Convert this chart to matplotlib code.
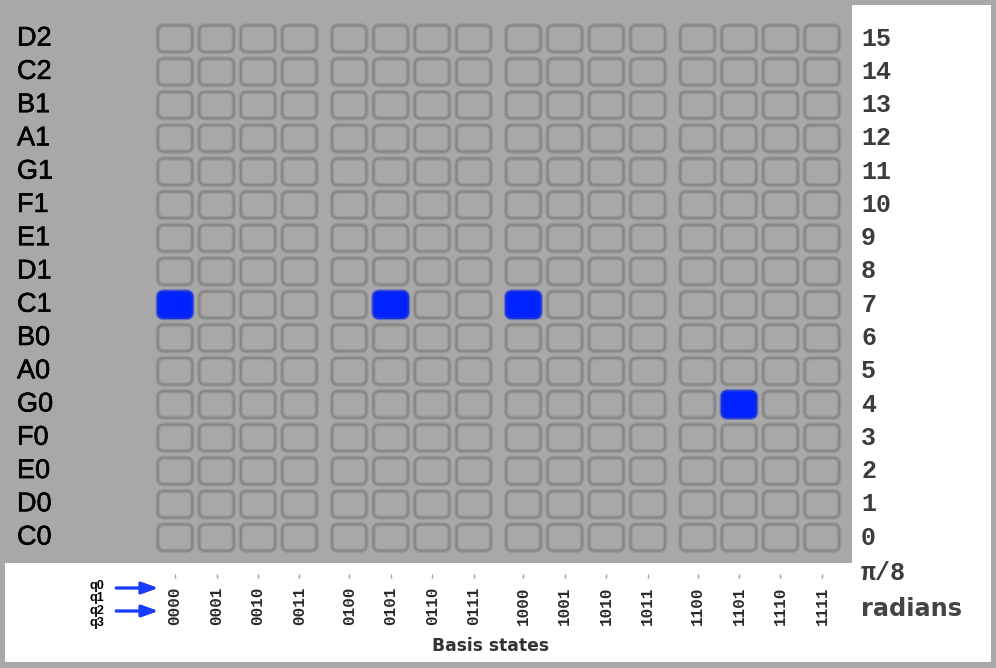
import matplotlib
matplotlib.use("Agg")
import matplotlib.pyplot as plt
import matplotlib.patheffects as pe
from matplotlib import transforms
from matplotlib.patches import FancyBboxPatch, Rectangle

# ── Data ───────────────────────────────────────────────────────
pitch_labels = ["C0", "D0", "E0", "F0", "G0", "A0", "B0", "C1",
                "D1", "E1", "F1", "G1", "A1", "B1", "C2", "D2"]
phase_labels = [str(i) for i in range(16)]
basis_states = ["0000", "0001", "0010", "0011", "0100", "0101", "0110", "0111",
                "1000", "1001", "1010", "1011", "1100", "1101", "1110", "1111"]
active_states = ["0000", "0101", "1000", "1101"]
active_phases = [7, 7, 7, 4]
qubit_labels = ["q0", "q1", "q2", "q3"]

# ── Style ──────────────────────────────────────────────────────
W, H = 996, 668
BG = "#a8a8a8"
CELL_EDGE = "#878787"
BLUE = "#0022ff"
TEXT_DARK = "#3c3c3c"


def fx(px):
    return px / W


def fy(py):
    return 1 - py / H


def col_x(i):
    # columns are grouped by four with a small gap between groups
    return i + 0.2 * (i // 4)


fig = plt.figure(figsize=(W / 100, H / 100), dpi=100, facecolor=BG)

# white panels (right legend column and bottom axis strip)
fig.add_artist(Rectangle((fx(852), fy(662)), fx(991 - 852), (662 - 4.5) / H,
                         transform=fig.transFigure, facecolor="white",
                         edgecolor="none", zorder=-1))
fig.add_artist(Rectangle((fx(5), fy(662)), fx(991 - 5), (662 - 563) / H,
                         transform=fig.transFigure, facecolor="white",
                         edgecolor="none", zorder=-1))

ax_l, ax_r, ax_t, ax_b = 154.3, 842.7, 22.0, 554.2
ax = fig.add_axes([fx(ax_l), fy(ax_b), fx(ax_r - ax_l), (ax_b - ax_t) / H])
ax.set_facecolor("none")
ax.set_xlim(-0.5, col_x(15) + 0.5)
ax.set_ylim(-0.5, 15.5)

px_x = (ax_r - ax_l) / (col_x(15) + 1.0)
px_y = (ax_b - ax_t) / 16.0
cw, ch = 34.5 / px_x, 26.5 / px_y
rad = 6.0 / px_x
aspect = px_x / px_y

active = set(zip(active_states, active_phases))
for i, state in enumerate(basis_states):
    for j in range(len(phase_labels)):
        on = (state, j) in active
        box = FancyBboxPatch(
            (col_x(i) - cw / 2, j - ch / 2), cw, ch,
            boxstyle=f"round,pad=0,rounding_size={rad}",
            mutation_aspect=aspect,
            facecolor=BLUE if on else "none",
            edgecolor="#1530e0" if on else CELL_EDGE,
            linewidth=1.4,
            path_effects=[pe.Stroke(linewidth=3.2,
                                    foreground="#1a35e8" if on else CELL_EDGE,
                                    alpha=0.45),
                          pe.Normal()],
        )
        ax.add_patch(box)

# x axis: basis states
for s in ["top", "left", "right"]:
    ax.spines[s].set_visible(False)
ax.spines["bottom"].set_position(("outward", 14.3))
ax.spines["bottom"].set_visible(False)
ax.set_xticks([col_x(i) for i in range(16)], basis_states, rotation=90,
              fontfamily="Liberation Mono", fontweight="bold", fontsize=11.5,
              color="#2a2a2a")
ax.tick_params(axis="x", length=2.6, width=1.0, color="#a0a0a0", pad=6.5)
ax.set_yticks([])

# row labels: pitches on the left, phase steps on the right
left_tr = transforms.blended_transform_factory(fig.transFigure, ax.transData)
for j, (p, ph) in enumerate(zip(pitch_labels, phase_labels)):
    ax.text(fx(17), j, p, transform=left_tr, ha="left", va="center",
            fontfamily="Liberation Sans", fontsize=19.5, color="black",
            path_effects=[pe.withStroke(linewidth=0.4, foreground="black")])
    ax.text(fx(861), j, ph, transform=left_tr, ha="left", va="center",
            fontfamily="Liberation Mono", fontweight="bold", fontsize=18,
            color=TEXT_DARK)

fig.text(fx(861), fy(573), "π/8", ha="left", va="center",
         fontfamily="Liberation Mono", fontweight="bold", fontsize=18,
         color=TEXT_DARK)
fig.text(fx(861), fy(609), "radians", ha="left", va="center",
         fontfamily="DejaVu Sans", fontweight="bold", fontsize=17.3,
         color="#444444")
fig.text(fx(490), fy(646), "Basis states", ha="center", va="center",
         fontfamily="DejaVu Sans", fontweight="bold", fontsize=12.3,
         color="#333333")

# qubit order hint
for q, y in zip(qubit_labels, [586, 598, 611, 623]):
    fig.text(fx(97), fy(y), q, ha="center", va="center",
             fontfamily="Liberation Sans", fontweight="bold", fontsize=9.2,
             color="black")
for y in [588, 611]:
    fig.add_artist(plt.annotate(
        "", xy=(fx(158), fy(y)), xytext=(fx(116), fy(y)),
        xycoords="figure fraction", textcoords="figure fraction",
        arrowprops=dict(arrowstyle="-|>,head_length=0.5,head_width=0.18",
                        mutation_scale=20, color="#1a3cff", lw=2.0,
                        shrinkA=0, shrinkB=0)))

fig.savefig("out.png", dpi=100, facecolor=BG)
plt.close(fig)
